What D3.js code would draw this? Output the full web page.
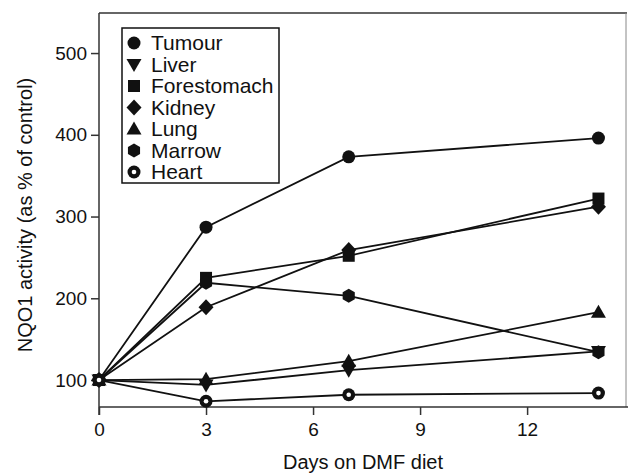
<!DOCTYPE html>
<html lang="en">
<head>
    <meta charset="UTF-8">
    <title>NQO1 activity</title>
    <style>
        body { margin: 0; background: #fff; }
        text { font-family: "Liberation Sans", Arial, sans-serif; fill: #111; }
        .axis path, .axis line { stroke: #333; stroke-width: 1.5; }
        .axis text { font-size: 19px; }
    </style>
    <script src="https://d3js.org/d3.v7.min.js"></script>
</head>
<body>
    <script>
        // values
        let days = [0, 3, 7, 14];
        let tumour = [100, 287, 373, 396];
        let liver = [100, 94, 112, 135];
        let forestomach = [100, 225, 252, 322];
        let kidney = [100, 189, 259, 312];
        let lung = [100, 101, 123, 183];
        let marrow = [100, 219, 203, 134];
        let heart = [100, 74, 82, 84];
        let seriesNames = ["Tumour", "Liver", "Forestomach", "Kidney", "Lung", "Marrow", "Heart"];
        let xTicks = [0, 3, 6, 9, 12];
        let yTicks = [100, 200, 300, 400, 500];

        let series = [
            {name: "Tumour", values: tumour, shape: "circle"},
            {name: "Liver", values: liver, shape: "triDown"},
            {name: "Forestomach", values: forestomach, shape: "square"},
            {name: "Kidney", values: kidney, shape: "diamond"},
            {name: "Lung", values: lung, shape: "triUp"},
            {name: "Marrow", values: marrow, shape: "hexagon"},
            {name: "Heart", values: heart, shape: "ring"}
        ];

        let width = 628, height = 473;
        let svg = d3.select("body").append("svg")
            .attr("width", width)
            .attr("height", height);

        let plotLeft = 99, plotRight = 627, plotTop = 13, plotBottom = 407;

        let x = d3.scaleLinear().domain([0, 14.8]).range([plotLeft, plotRight]);
        let y = d3.scaleLinear().domain([67, 549]).range([plotBottom, plotTop]);

        // frame top / right
        svg.append("line").attr("x1", plotLeft).attr("x2", plotRight).attr("y1", plotTop).attr("y2", plotTop)
            .attr("stroke", "#333").attr("stroke-width", 1.5);
        svg.append("line").attr("x1", plotRight - 1).attr("x2", plotRight - 1).attr("y1", plotTop).attr("y2", plotBottom)
            .attr("stroke", "#888").attr("stroke-width", 1);

        let xAxis = svg.append("g").attr("class", "axis")
            .attr("transform", "translate(0," + plotBottom + ")")
            .call(d3.axisBottom(x).tickValues(xTicks).tickSize(8).tickPadding(8).tickSizeOuter(0));
        xAxis.select(".domain").attr("d", "M" + plotLeft + ",0H" + width);
        xAxis.selectAll(".tick line").attr("stroke", "#666");

        let yAxis = svg.append("g").attr("class", "axis")
            .attr("transform", "translate(" + plotLeft + ",0)")
            .call(d3.axisLeft(y).tickValues(yTicks).tickSize(8).tickPadding(4).tickSizeOuter(0));
        yAxis.select(".domain").attr("d", "M0," + plotTop + "V" + (plotBottom + 8));
        yAxis.selectAll(".tick line").attr("stroke", "#666");

        svg.append("text")
            .attr("x", (plotLeft + plotRight) / 2)
            .attr("y", 469)
            .attr("text-anchor", "middle")
            .style("font-size", "20px")
            .text("Days on DMF diet");

        svg.append("text")
            .attr("transform", "translate(32,215) rotate(-90)")
            .attr("text-anchor", "middle")
            .style("font-size", "20px")
            .text("NQO1 activity (as % of control)");

        function drawMarker(g, shape, cx, cy) {
            if (shape === "circle") {
                g.append("circle").attr("cx", cx).attr("cy", cy).attr("r", 6.5).attr("fill", "#111");
            } else if (shape === "ring") {
                g.append("circle").attr("cx", cx).attr("cy", cy).attr("r", 6.5).attr("fill", "#111");
                g.append("circle").attr("cx", cx).attr("cy", cy).attr("r", 2.3).attr("fill", "#fff");
            } else if (shape === "square") {
                g.append("rect").attr("x", cx - 6).attr("y", cy - 6).attr("width", 12).attr("height", 12).attr("fill", "#111");
            } else if (shape === "diamond") {
                g.append("path").attr("d", "M" + cx + "," + (cy - 8) + "L" + (cx + 7.5) + "," + cy + "L" + cx + "," + (cy + 8) + "L" + (cx - 7.5) + "," + cy + "Z").attr("fill", "#111");
            } else if (shape === "triUp") {
                g.append("path").attr("d", "M" + cx + "," + (cy - 7.5) + "L" + (cx + 7.5) + "," + (cy + 5.5) + "L" + (cx - 7.5) + "," + (cy + 5.5) + "Z").attr("fill", "#111");
            } else if (shape === "triDown") {
                g.append("path").attr("d", "M" + cx + "," + (cy + 7.5) + "L" + (cx + 7.5) + "," + (cy - 5.5) + "L" + (cx - 7.5) + "," + (cy - 5.5) + "Z").attr("fill", "#111");
            } else if (shape === "hexagon") {
                let pts = d3.range(6).map(i => {
                    let a = Math.PI / 3 * i - Math.PI / 2;
                    return [cx + 7 * Math.cos(a), cy + 7 * Math.sin(a)];
                });
                g.append("path").attr("d", "M" + pts.join("L") + "Z").attr("fill", "#111");
            }
        }

        let line = d3.line().x((d, i) => x(days[i])).y(d => y(d));

        svg.selectAll(".series-line")
            .data(series)
            .enter()
            .append("path")
            .attr("class", "series-line")
            .attr("d", d => line(d.values))
            .attr("fill", "none")
            .attr("stroke", "#111")
            .attr("stroke-width", 1.8);

        let markers = svg.append("g");
        series.forEach(s => {
            s.values.forEach((v, i) => drawMarker(markers, s.shape, x(days[i]), y(v)));
        });

        // legend
        let legend = svg.append("g");
        legend.append("rect")
            .attr("x", 122).attr("y", 28).attr("width", 157).attr("height", 155)
            .attr("fill", "#fff").attr("stroke", "#111").attr("stroke-width", 1.5);
        series.forEach((s, i) => {
            let cy = 43 + i * 21.5;
            drawMarker(legend, s.shape, 134, cy);
            legend.append("text")
                .attr("x", 151).attr("y", cy + 7)
                .style("font-size", "21px")
                .text(seriesNames[i]);
        });
    </script>
</body>
</html>
